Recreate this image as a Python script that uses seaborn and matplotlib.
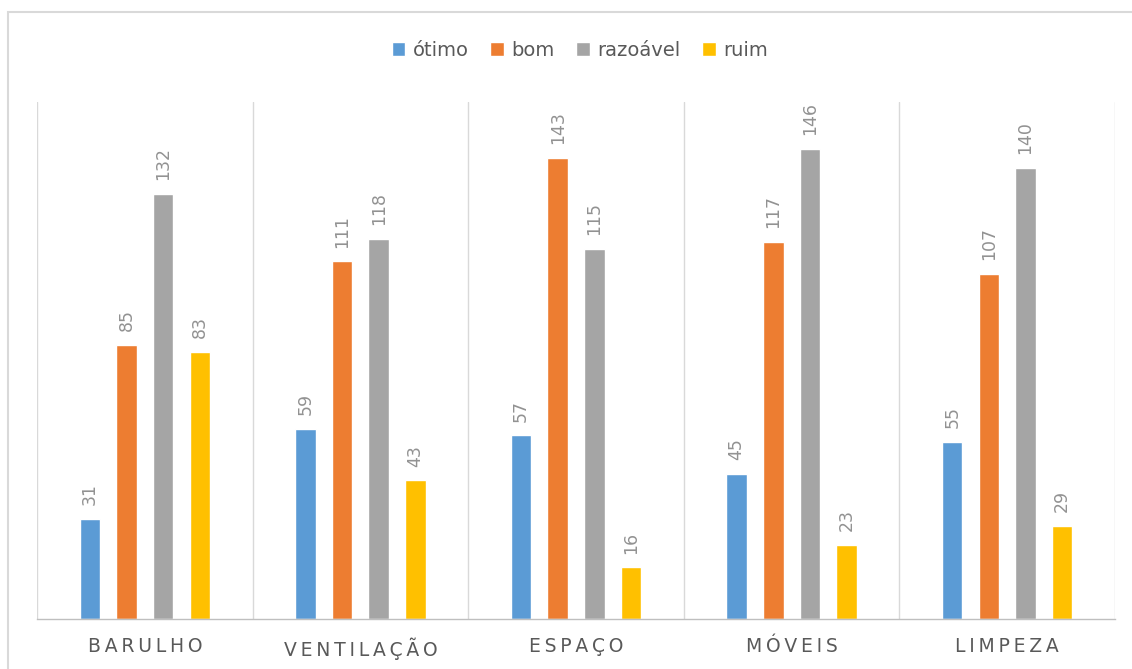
import matplotlib
matplotlib.use("Agg")
import matplotlib.pyplot as plt
import seaborn as sns
import pandas as pd
from matplotlib.patches import Rectangle

categories = ["BARULHO", "VENTILAÇÃO", "ESPAÇO", "MÓVEIS", "LIMPEZA"]
series = ["ótimo", "bom", "razoável", "ruim"]
otimo = [31, 59, 57, 45, 55]
bom = [85, 111, 143, 117, 107]
razoavel = [132, 118, 115, 146, 140]
ruim = [83, 43, 16, 23, 29]
colors = ["#5B9BD5", "#ED7D31", "#A5A5A5", "#FFC000"]

rows = []
for s, vals in zip(series, [otimo, bom, razoavel, ruim]):
    for c, v in zip(categories, vals):
        rows.append({"cat": c, "serie": s, "valor": v})
df = pd.DataFrame(rows)

sns.set_style("white")
plt.rcParams['font.family'] = ['DejaVu Sans']

fig = plt.figure(figsize=(11.32, 6.69), dpi=100)
ax = fig.add_axes([37/1132, 50/669, (1115-37)/1132, (619-102)/669])

sns.barplot(data=df, x="cat", y="valor", hue="serie", order=categories,
            hue_order=series, palette=colors, width=0.68, gap=0.44,
            ax=ax, saturation=1, legend=True)

for cont in ax.containers:
    ax.bar_label(cont, rotation=90, padding=10, fontsize=12.5, color="#929292")

ax.set_ylim(0, 160.5)
ax.set_xlim(-0.5, 4.5)
ax.set_yticks([])
ax.set_xlabel("")
ax.set_ylabel("")
for x in [-0.5, 0.5, 1.5, 2.5, 3.5, 4.5]:
    ax.axvline(x, color="#d9d9d9", lw=1, zorder=0)
for sp in ["top", "left", "right"]:
    ax.spines[sp].set_visible(False)
ax.spines["bottom"].set_color("#bfbfbf")
ax.spines["bottom"].set_linewidth(1)

ax.set_xticks(range(len(categories)))
ax.set_xticklabels(["\u2009".join(list(c)) for c in categories],
                   fontsize=13.5, color="#595959")
ax.tick_params(axis="x", length=0, pad=13)

handles, labels = ax.get_legend_handles_labels()
ax.legend(handles, labels, loc="center", bbox_to_anchor=(580/1132, 1 - 50/669),
          bbox_transform=fig.transFigure, ncol=4, frameon=False, fontsize=14,
          handlelength=0.7, handleheight=0.7, handletextpad=0.4, columnspacing=1.1,
          labelcolor="#595959")

fig.patches.append(Rectangle((8/1132, -0.1), 1.2, 1 - 12/669 + 0.1,
                             transform=fig.transFigure, fill=False,
                             edgecolor="#d9d9d9", lw=1.5, zorder=0))

fig.savefig("out.png", dpi=100)
